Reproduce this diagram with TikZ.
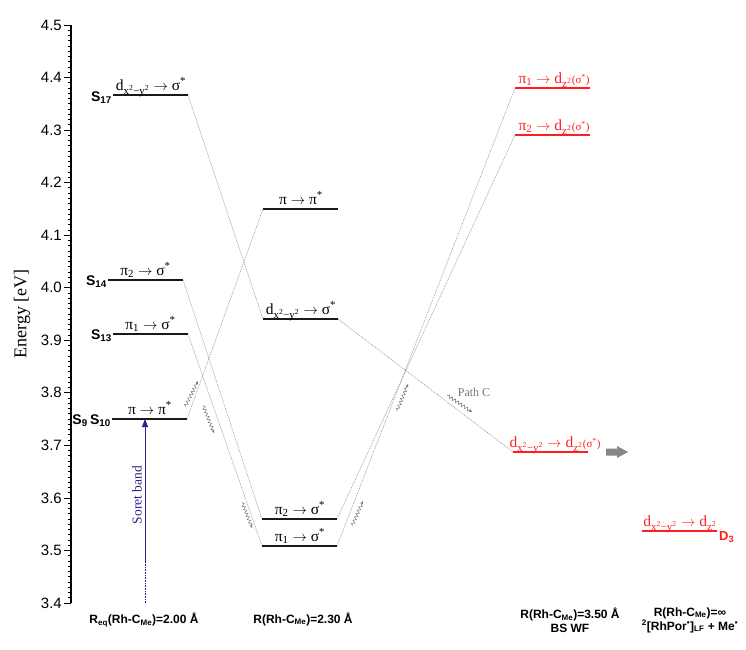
\documentclass[tikz,border=0pt]{standalone}
\usepackage{fontspec}
\setmainfont{Liberation Serif}
\newfontfamily\arialfont{Liberation Sans}
\usetikzlibrary{arrows.meta,decorations.pathmorphing}
\definecolor{levred}{RGB}{255,30,30}
\definecolor{soret}{RGB}{40,35,140}
\definecolor{linkgray}{RGB}{150,150,150}
\newcommand{\dxy}{d\textsubscript{x\textsuperscript{2}−y\textsuperscript{2}}}
\newcommand{\dzz}{d\textsubscript{z\textsuperscript{2}}}
\newcommand{\sst}{σ\textsuperscript{*}}
\newcommand{\tto}{ $\rightarrow$ }
\newcommand{\smallsig}{{\fontsize{11}{11}\selectfont(σ\textsuperscript{*})}}
\begin{document}
\begin{tikzpicture}[x=1pt,y=-1pt,
  level/.style={line width=1.6pt, black!90},
  redlevel/.style={line width=1.6pt, levred},
  link/.style={linkgray, line width=0.6pt, dash pattern=on 0.9pt off 0.9pt},
  trans/.style={font=\fontsize{15.5}{15.5}\selectfont, inner sep=0pt, anchor=base},
  redtrans/.style={trans, text=levred},
  slab/.style={font=\arialfont\bfseries\fontsize{14}{14}\selectfont, inner sep=0pt, anchor=base east},
  rlab/.style={font=\arialfont\bfseries\fontsize{12}{14}\selectfont, align=center, inner sep=0pt},
  ticklab/.style={font=\arialfont\fontsize{15}{15}\selectfont, anchor=east, inner sep=0pt},
  tickline/.style={line width=0.8pt, black},
  wavy/.style={linkgray!80!black, line width=0.5pt, decorate,
    decoration={snake, amplitude=1.6pt, segment length=3.6pt, post length=3pt, pre length=1pt},
    -{Stealth[length=3.5pt,width=3pt]}},
]
\useasboundingbox (0,0) rectangle (746,649);

% energy axis: 0.1 eV = 52.545 units, 4.5 eV at y = 25
\draw[line width=1.2pt] (71,25) -- (71,603);
\foreach \k in {0,...,110}{
  \pgfmathsetmacro\yy{25+\k*5.2545}
  \draw[tickline] (71,\yy) -- (68,\yy);
}
\foreach \k/\lab in {0/4.5,1/4.4,2/4.3,3/4.2,4/4.1,5/4.0,6/3.9,7/3.8,8/3.7,9/3.6,10/3.5,11/3.4}{
  \pgfmathsetmacro\yy{25+\k*52.545}
  \draw[tickline] (71,\yy) -- (64,\yy);
  \node[ticklab] at (62,\yy) {\lab};
}
\node[rotate=90, font=\fontsize{18}{18}\selectfont] (ylab) at (22,314) {Energy [eV]};

% level end points
\coordinate (s17l) at (113,95);  \coordinate (s17r) at (188,95);
\coordinate (s14l) at (108,280); \coordinate (s14r) at (183,280);
\coordinate (s13l) at (113,334); \coordinate (s13r) at (188,334);
\coordinate (s9l)  at (112,419); \coordinate (s9r)  at (187,419);
\coordinate (mppl) at (263,209); \coordinate (mppr) at (338,209);
\coordinate (mdxl) at (263,319); \coordinate (mdxr) at (338,319);
\coordinate (mp2l) at (262,519); \coordinate (mp2r) at (337,519);
\coordinate (mp1l) at (262,546); \coordinate (mp1r) at (337,546);
\coordinate (rp1l) at (515,88);  \coordinate (rp1r) at (590,88);
\coordinate (rp2l) at (515,135); \coordinate (rp2r) at (590,135);
\coordinate (rdxl) at (513,452); \coordinate (rdxr) at (588,452);
\coordinate (fdxl) at (642,531); \coordinate (fdxr) at (717,531);

% correlation lines
\draw[link] (s17r) -- (mdxl);
\draw[link] (mdxr) -- (rdxl);
\draw[link] (s14r) -- (mp2l);
\draw[link] (s13r) -- (mp1l);
\draw[link] (s9r) -- (mppl);
\draw[link] (mp2r) -- (rp2l);
\draw[link] (mp1r) -- (rp1l);

% levels
\draw[level] (s17l) -- (s17r);
\draw[level] (s14l) -- (s14r);
\draw[level] (s13l) -- (s13r);
\draw[level] (s9l) -- (s9r);
\draw[level] (mppl) -- (mppr);
\draw[level] (mdxl) -- (mdxr);
\draw[level] (mp2l) -- (mp2r);
\draw[level] (mp1l) -- (mp1r);
\draw[redlevel] (rp1l) -- (rp1r);
\draw[redlevel] (rp2l) -- (rp2r);
\draw[redlevel] (rdxl) -- (rdxr);
\draw[redlevel] (fdxl) -- (fdxr);

% state labels
\node[slab] (ls17) at (112,101) {S\textsubscript{17}};
\node[slab] (ls14) at (107,285) {S\textsubscript{14}};
\node[slab] (ls13) at (112,339) {S\textsubscript{13}};
\node[slab] (ls9)  at (111,424) {S\textsubscript{9}\,S\textsubscript{10}};

% transition labels
\node[trans] (t17) at (151,90) {\dxy\tto\sst};
\node[trans] (t14) at (145.5,275) {π\textsubscript{2}\tto\sst};
\node[trans] (t13) at (150.5,329) {π\textsubscript{1}\tto\sst};
\node[trans] (t9)  at (150,414) {π\tto π\textsuperscript{*}};
\node[trans] (tpp) at (301,204) {π\tto π\textsuperscript{*}};
\node[trans] (tdx) at (301,314) {\dxy\tto\sst};
\node[trans] (tp2) at (300,514) {π\textsubscript{2}\tto\sst};
\node[trans] (tp1) at (300,541) {π\textsubscript{1}\tto\sst};
\node[redtrans] (rt1) at (554,83) {π\textsubscript{1}\tto\dzz\smallsig};
\node[redtrans] (rt2) at (554,130) {π\textsubscript{2}\tto\dzz\smallsig};
\node[redtrans] (rt3) at (555,447) {\dxy\tto\dzz\smallsig};
\node[redtrans] (rt4) at (680,526) {\dxy\tto\dzz};
\node[font=\arialfont\bfseries\fontsize{13}{13}\selectfont, text=levred, inner sep=0pt, anchor=base west] (d3) at (719,540) {D\textsubscript{3}};

% Soret excitation
\coordinate (sb0) at (145,603);
\coordinate (sb1) at (145,563);
\draw[soret, line width=0.9pt, dash pattern=on 0.8pt off 0.8pt] (sb0) -- (sb1);
\draw[soret, line width=0.9pt, -{Triangle[length=8pt,width=6pt]}] (sb1) -- (s9l -| sb1);
\node[rotate=90, text=soret, font=\fontsize{13.5}{13.5}\selectfont] (sbl) at (137,495) {Soret band};

% wavy relaxation arrows
\coordinate (w1a) at (185,407); \coordinate (w1b) at (198,381);
\coordinate (w2a) at (203,405); \coordinate (w2b) at (214,433);
\coordinate (w3a) at (242,502); \coordinate (w3b) at (252,528);
\coordinate (w4a) at (352,526); \coordinate (w4b) at (363,501);
\coordinate (w5a) at (397,411); \coordinate (w5b) at (408,384);
\coordinate (w6a) at (447,395); \coordinate (w6b) at (472,412);
\draw[wavy] (w1a) -- (w1b);
\draw[wavy] (w2a) -- (w2b);
\draw[wavy] (w3a) -- (w3b);
\draw[wavy] (w4a) -- (w4b);
\draw[wavy] (w5a) -- (w5b);
\draw[wavy] (w6a) -- (w6b);
\node[text=linkgray!80!black, font=\fontsize{12}{12}\selectfont, inner sep=0pt] (pc) at (474,392) {Path C};

% dissociation arrow
\fill[linkgray!90!black] (606,448.5) -- (617,448.5) -- (617,446) -- (628,452) -- (617,458) -- (617,455.5) -- (606,455.5) -- cycle;

% geometry labels
\node[rlab] (g1) at (144,620) {R\textsubscript{eq}(Rh-C\textsubscript{Me})=2.00 Å};
\node[rlab] (g2) at (303,619) {R(Rh-C\textsubscript{Me})=2.30 Å};
\node[rlab] (g3) at (570,620) {R(Rh-C\textsubscript{Me})=3.50 Å\\BS WF};
\node[rlab] (g4) at (690,620) {R(Rh-C\textsubscript{Me})=∞\\\textsuperscript{2}[RhPor\textsuperscript{•}]\textsubscript{LF} + Me\textsuperscript{•}};
\end{tikzpicture}
\end{document}
